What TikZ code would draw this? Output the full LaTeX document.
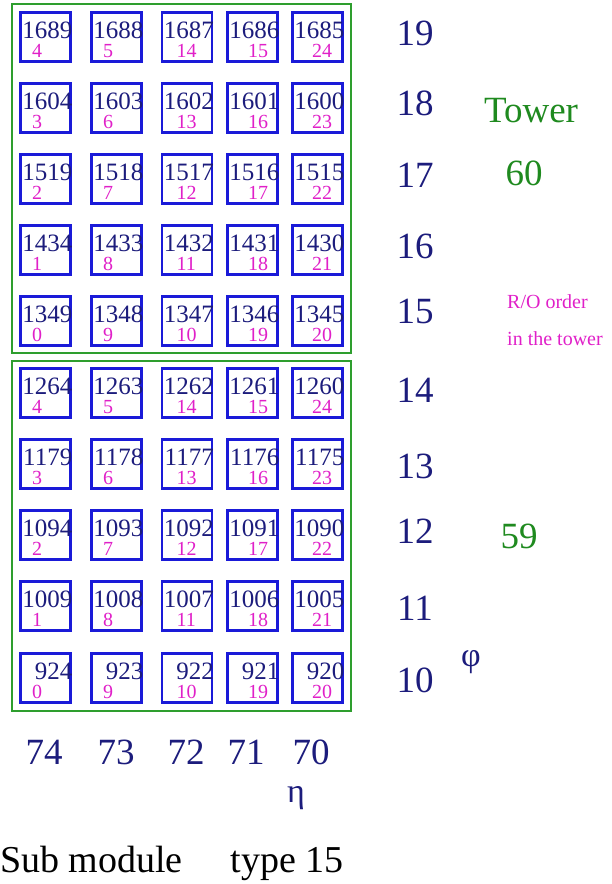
\documentclass[tikz,border=0pt]{standalone}
\usepackage{fontspec}
\setmainfont{Liberation Serif}
\usetikzlibrary{positioning}
\definecolor{cellblue}{HTML}{1A1AD8}
\definecolor{labelnavy}{HTML}{1C1C7C}
\definecolor{ordermag}{HTML}{E020C8}
\definecolor{towergreen}{HTML}{2E9E2E}
\definecolor{towertext}{HTML}{1F8A1F}

\tikzset{
  cellbox/.style={draw=cellblue, line width=2.8pt, minimum width=50pt,
    minimum height=49pt, inner sep=0pt},
  towerbox/.style={draw=towergreen, line width=2.8pt},
  cellid/.style={font=\fontsize{25}{25}\selectfont, text=labelnavy,
    inner sep=0pt, text height=0.7em, text depth=0pt, anchor=base east},
  roorder/.style={font=\fontsize{20}{20}\selectfont, text=ordermag,
    inner sep=0pt, text height=0.7em, text depth=0pt, anchor=base west},
  biglabel/.style={font=\fontsize{37}{37}\selectfont, text=labelnavy,
    inner sep=0pt, anchor=base},
}

\begin{document}
\begin{tikzpicture}[x=1pt, y=-1pt]
  \useasboundingbox (0,0) rectangle (612,884);

  % Tower outlines
  \draw[towerbox] (12,4) rectangle (351,353);
  \draw[towerbox] (12,361) rectangle (351,711);

  % Cells: phi / centre y / row in tower
  \foreach \ph/\cy/\r in {
    19/37/0, 18/108/1, 17/179/2, 16/250/3, 15/321/4,
    14/393/0, 13/464/1, 12/535/2, 11/606/3, 10/678/4
  } {
    \foreach \et/\cx/\off [count=\c from 0] in {
      74/45.5/13, 73/116.5/13, 72/187/16, 71/252.5/22, 70/317.5/21
    } {
      \pgfmathtruncatemacro\cid{85*\ph+\et}
      \pgfmathtruncatemacro\ro{5*\c + (mod(\c,2)==0 ? 4-\r : \r)}
      \node[cellbox] (cell-\ph-\et) at (\cx,\cy) {};
      \node[cellid] (id-\ph-\et) at (\cx+27,\cy+1) {\cid};
      \node[roorder] (ro-\ph-\et) at (\cx-26.5+\off,\cy+20) {\ro};
    }
  }

  % phi labels
  \foreach \ph/\by in {
    19/45, 18/115, 17/187, 16/258, 15/323,
    14/402, 13/478, 12/543, 11/620, 10/692
  } {
    \node[biglabel] (phi-\ph) at (415,\by) {\ph};
  }

  % eta labels
  \foreach \et/\bx in {74/44, 73/116, 72/186, 71/246, 70/311} {
    \node[biglabel] (eta-\et) at (\bx,764) {\et};
  }

  % axis symbols
  \node[biglabel, font=\fontsize{34}{34}\selectfont] (etasym) at (296,802) {η};
  \node[biglabel, font=\fontsize{34}{34}\selectfont] (phisym) at (471,666) {φ};

  % Tower numbers
  \node[biglabel, text=towertext] (towerlbl) at (531,122) {Tower};
  \node[biglabel, text=towertext] (tower60) at (524,185) {60};
  \node[biglabel, text=towertext] (tower59) at (519,548) {59};

  % R/O note
  \node[font=\fontsize{20}{37}\selectfont, text=ordermag, align=left,
    inner sep=0pt, anchor=north west] (ronote) at (507,294)
    {R/O order\\in the tower};

  % Caption
  \node[font=\fontsize{38}{38}\selectfont, inner sep=0pt, anchor=base west]
    (caption) at (0,872) {Sub module\hspace{48pt}type 15};
\end{tikzpicture}
\end{document}
